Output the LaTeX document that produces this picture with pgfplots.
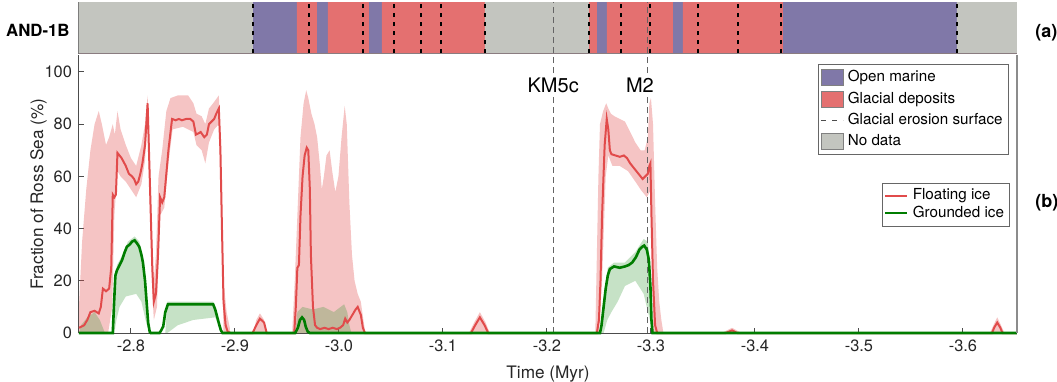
\documentclass[border=0pt]{standalone}
\usepackage{fontspec}
\setmainfont{TeX Gyre Heros}
\usepackage{pgfplots}
\pgfplotsset{compat=1.18}
\usetikzlibrary{calc}

\definecolor{openmarine}{RGB}{128,120,168}
\definecolor{glacial}{RGB}{228,112,112}
\definecolor{nodata}{RGB}{195,197,191}
\definecolor{floatred}{RGB}{225,75,75}
\definecolor{groundgreen}{RGB}{0,125,0}
\definecolor{markgray}{RGB}{100,100,100}

\pgfplotsset{
  shortline legend/.style={legend image code/.code={\draw[##1] (0pt,0pt) -- (11pt,0pt);}},
  spread red/.style={fill=floatred, fill opacity=0.33, draw=none, forget plot},
  spread green/.style={fill=groundgreen!80, fill opacity=0.28, draw=none, forget plot},
}

\begin{document}
\begin{tikzpicture}
% ---------------- (b) ice fractions ----------------
\begin{axis}[
  name=main,
  scale only axis,
  width=469pt, height=139pt,
  x dir=reverse,
  xmin=-3.652, xmax=-2.75,
  ymin=0, ymax=106.5,
  clip=false,
  axis lines*=left,
  axis line style={black!70, line width=0.5pt},
  tick style={black!70, line width=0.5pt},
  tick align=inside,
  major tick length=2.5pt,
  xtick={-3.6,-3.5,-3.4,-3.3,-3.2,-3.1,-3.0,-2.9,-2.8},
  xticklabels={-3.6,-3.5,-3.4,-3.3,-3.2,-3.1,-3.0,-2.9,-2.8},
  ytick={0,20,40,60,80,100},
  /pgf/number format/assume math mode=true,
  tick label style={font=\fontsize{8.2}{9}\selectfont, black!85},
  xlabel={Time (Myr)},
  ylabel={Fraction of Ross Sea (\%)},
  ylabel shift=-8pt,
  label style={font=\fontsize{8.6}{10}\selectfont, black!85},
  legend style={at={(0.9925,0.54)}, anchor=north east, draw=black!60,
    font=\fontsize{7.6}{8.5}\selectfont, inner sep=0.8pt, row sep=-2.5pt},
  legend cell align=left,
]
% shaded spread, floating ice
\addplot[spread red] coordinates {
(-2.750,10) (-2.753,35) (-2.757,55) (-2.761,70) (-2.765,80) (-2.769,85) (-2.772,80)
(-2.776,72) (-2.779,75) (-2.7825,80) (-2.7845,76) (-2.787,85) (-2.790,78) (-2.795,72)
(-2.800,67) (-2.805,64) (-2.810,72) (-2.8135,80) (-2.816,91) (-2.818,70) (-2.8205,35)
(-2.822,20) (-2.824,30) (-2.8265,60) (-2.830,70) (-2.834,85) (-2.838,90) (-2.845,91)
(-2.855,91) (-2.860,88) (-2.863,84) (-2.868,83) (-2.8715,80) (-2.875,86) (-2.879,88)
(-2.8845,91) (-2.886,75) (-2.8875,45) (-2.889,20) (-2.892,8) (-2.895,2)
(-2.895,0) (-2.889,0) (-2.8875,30) (-2.886,60) (-2.8845,80) (-2.880,78) (-2.875,73)
(-2.8715,65) (-2.868,70) (-2.863,72) (-2.860,77) (-2.850,79) (-2.840,78) (-2.836,65)
(-2.832,48) (-2.828,45) (-2.825,10) (-2.822,5) (-2.8205,15) (-2.818,50) (-2.816,82)
(-2.8135,66) (-2.810,57) (-2.805,52) (-2.800,55) (-2.795,58) (-2.790,60) (-2.787,62)
(-2.784,45) (-2.782,10) (-2.778,0) (-2.750,0)} -- cycle;
\addplot[spread red] coordinates {
(-2.9175,0) (-2.9205,5) (-2.924,7.5) (-2.928,5) (-2.9305,0)} -- cycle;
\addplot[spread red] coordinates {
(-2.955,0) (-2.9575,20) (-2.960,45) (-2.963,75) (-2.966,88) (-2.9685,93) (-2.9705,90)
(-2.9735,84) (-2.9765,80) (-2.979,75) (-2.9815,65) (-2.9835,55) (-2.9855,60) (-2.988,68)
(-2.991,70) (-2.9935,62) (-2.9965,54) (-2.9995,60) (-3.0025,75) (-3.0055,87) (-3.0075,80)
(-3.010,50) (-3.0125,30) (-3.015,20) (-3.018,15) (-3.021,12) (-3.0235,5) (-3.0255,0)} -- cycle;
\addplot[spread red] coordinates {
(-3.125,0) (-3.130,4) (-3.1355,8) (-3.141,4) (-3.145,0)} -- cycle;
\addplot[spread red] coordinates {
(-3.2465,0) (-3.248,30) (-3.2495,60) (-3.251,80) (-3.254,85) (-3.257,88) (-3.259,86)
(-3.2615,84) (-3.265,83) (-3.270,82) (-3.275,81) (-3.280,77) (-3.285,73) (-3.290,70)
(-3.294,70) (-3.297,75) (-3.2985,88) (-3.300,90) (-3.302,80) (-3.304,50) (-3.306,25)
(-3.308,12) (-3.310,5) (-3.312,0)
(-3.302,0) (-3.300,55) (-3.296,52) (-3.290,55) (-3.285,58) (-3.278,62) (-3.270,64)
(-3.263,64) (-3.259,68) (-3.2565,60) (-3.253,20) (-3.250,0)} -- cycle;
\addplot[spread red] coordinates {
(-3.368,0) (-3.378,2) (-3.387,0)} -- cycle;
\addplot[spread red] coordinates {
(-3.626,0) (-3.630,3.5) (-3.633,6) (-3.636,3.5) (-3.640,0)} -- cycle;
% shaded spread, grounded ice
\addplot[spread green] coordinates {
(-2.750,0) (-2.752,3) (-2.758,6) (-2.765,8) (-2.770,5) (-2.773,2) (-2.775,0)} -- cycle;
\addplot[spread green] coordinates {
(-2.7825,0) (-2.784,20) (-2.7865,26) (-2.792,30) (-2.797,35) (-2.8035,37) (-2.808,35)
(-2.8115,29) (-2.815,14) (-2.8175,0)
(-2.814,5) (-2.810,12) (-2.805,15) (-2.795,14) (-2.789,10) (-2.786,5) (-2.784,0)} -- cycle;
\addplot[spread green] coordinates {
(-2.833,0) (-2.835,12) (-2.860,12) (-2.879,12) (-2.883,7) (-2.8875,0)
(-2.881,6) (-2.860,5) (-2.845,3) (-2.835,0)} -- cycle;
\addplot[spread green] coordinates {
(-2.958,0) (-2.960,8) (-2.965,10) (-2.975,9) (-2.985,10) (-2.995,8) (-3.005,11)
(-3.008,8) (-3.010,3) (-3.012,0)} -- cycle;
\addplot[spread green] coordinates {
(-3.2505,0) (-3.2545,14) (-3.2585,25) (-3.2645,27) (-3.275,27) (-3.285,31) (-3.293,36)
(-3.297,35) (-3.2995,25) (-3.3015,0)
(-3.299,5) (-3.293,15) (-3.285,20) (-3.275,18) (-3.268,12) (-3.262,8) (-3.258,5)
(-3.2545,0)} -- cycle;
% KM5c and M2
\addplot[markgray, line width=0.6pt, dash pattern=on 3pt off 2pt, forget plot]
  coordinates {(-3.206,0) (-3.206,106.5)};
\addplot[markgray, line width=0.6pt, dash pattern=on 3pt off 2pt, forget plot]
  coordinates {(-3.297,0) (-3.297,106.5)};
% median lines
\addplot[floatred, line width=1pt, shortline legend] coordinates {
(-2.750,2) (-2.755,3) (-2.758,5) (-2.761,8) (-2.765,8.5) (-2.769,7.5) (-2.771,10)
(-2.773,17) (-2.776,16) (-2.779,17) (-2.781,25) (-2.7825,53) (-2.784,52) (-2.7855,53)
(-2.787,69) (-2.791,67) (-2.795,64) (-2.798,61) (-2.801,60) (-2.803,59) (-2.805,57)
(-2.807,58) (-2.809,61) (-2.811,65) (-2.8135,72) (-2.816,88) (-2.818,60) (-2.8205,25)
(-2.822,12) (-2.824,15) (-2.826,30) (-2.828,52) (-2.830,50) (-2.832,52) (-2.836,70)
(-2.8395,82) (-2.843,81.5) (-2.846,82) (-2.849,81.5) (-2.853,82) (-2.857,82) (-2.860,81)
(-2.8625,76) (-2.865,76.5) (-2.867,77) (-2.8705,75) (-2.873,76) (-2.875,80) (-2.8775,81)
(-2.880,82) (-2.882,84) (-2.8845,86) (-2.886,70) (-2.8875,40) (-2.889,12) (-2.891,3)
(-2.893,0.5) (-2.896,0) (-2.917,0) (-2.9205,3) (-2.924,5.5) (-2.928,4) (-2.9305,0)
(-2.957,0) (-2.9585,10) (-2.960,25) (-2.9615,26) (-2.963,45) (-2.965,60) (-2.967,68)
(-2.969,71) (-2.9705,70) (-2.972,55) (-2.973,30) (-2.975,10) (-2.977,3) (-2.979,2)
(-2.982,1.5) (-2.986,2) (-2.990,1.5) (-2.994,2) (-2.998,1.5) (-3.001,2) (-3.004,3)
(-3.006,5.5) (-3.008,4) (-3.010,5) (-3.013,7) (-3.016,9) (-3.018,10) (-3.021,7)
(-3.023,2) (-3.025,0) (-3.127,0) (-3.131,3) (-3.1355,6) (-3.140,3) (-3.1435,0)
(-3.248,0) (-3.250,5) (-3.2515,20) (-3.253,45) (-3.2555,72) (-3.2575,82) (-3.259,78)
(-3.2605,70) (-3.262,68.5) (-3.266,68) (-3.270,67.5) (-3.274,68) (-3.277,67) (-3.280,65)
(-3.284,63) (-3.288,61) (-3.292,59) (-3.2945,60) (-3.297,61) (-3.2985,64) (-3.2995,65)
(-3.3005,45) (-3.302,20) (-3.304,3) (-3.306,0) (-3.372,0) (-3.378,1) (-3.383,0)
(-3.628,0) (-3.630,2) (-3.633,4) (-3.636,2) (-3.638,0) (-3.652,0)};
\addlegendentry{Floating ice}
\addplot[groundgreen, line width=1.3pt, shortline legend] coordinates {
(-2.750,0) (-2.7825,0) (-2.7838,12) (-2.785,22) (-2.7865,24) (-2.789,26) (-2.7915,28)
(-2.794,31) (-2.796,33) (-2.799,34) (-2.801,35) (-2.8035,35.5) (-2.8055,34.5) (-2.808,33)
(-2.810,30) (-2.8115,27) (-2.8135,20) (-2.815,12) (-2.8165,4) (-2.818,0.5) (-2.819,0)
(-2.8275,0) (-2.829,1) (-2.831,2.5) (-2.833,8) (-2.8355,11) (-2.845,11) (-2.860,11)
(-2.875,11) (-2.879,11) (-2.881,9) (-2.883,6) (-2.885,3) (-2.8865,1) (-2.888,0)
(-2.958,0) (-2.9605,2) (-2.9625,5) (-2.9645,6) (-2.9665,5) (-2.968,2.5) (-2.970,0.5)
(-2.972,0) (-3.251,0) (-3.2525,3) (-3.2545,10) (-3.2565,17) (-3.2585,22) (-3.2605,24.5)
(-3.2645,25.5) (-3.270,25) (-3.275,25.5) (-3.2785,26) (-3.282,27) (-3.2855,29) (-3.289,32)
(-3.2915,33) (-3.2935,33.5) (-3.296,32) (-3.298,28) (-3.2995,18) (-3.3005,5) (-3.3015,0)
(-3.652,0)};
\addlegendentry{Grounded ice}
\node[fill=white, inner sep=1pt, font=\fontsize{10}{12}\selectfont] at (axis cs:-3.206,95) {KM5c};
\node[fill=white, inner sep=1pt, font=\fontsize{10}{12}\selectfont] at (axis cs:-3.2894,95) {M2};
\draw[black!45, line width=0.6pt] (rel axis cs:1,0) -- (rel axis cs:1,1);
\node[anchor=west, font=\bfseries\fontsize{9}{10}\selectfont] at (rel axis cs:1.012,0.468) {(b)};
\end{axis}

% ---------------- (a) AND-1B core strip ----------------
\begin{axis}[
  name=strip,
  at={($(main.north west)+(0pt,1pt)$)}, anchor=south west,
  scale only axis,
  width=469pt, height=25.5pt,
  x dir=reverse,
  xmin=-3.652, xmax=-2.75,
  ymin=0, ymax=1,
  clip=false,
  xtick=\empty, ytick=\empty,
  axis line style={black!55, line width=0.5pt},
  legend style={at={(0.9915,-0.216)}, anchor=north east, draw=black!60,
    font=\fontsize{7.6}{8.5}\selectfont, inner sep=1pt, row sep=-0.5pt},
  legend cell align=left,
]
\addplot[const plot, fill=openmarine, draw=none, forget plot] coordinates {
(-2.75,0) (-2.9173,1) (-2.9596,0) (-2.9788,1) (-2.9894,0) (-3.0288,1) (-3.0413,0)
(-3.2481,1) (-3.2577,0) (-3.3212,1) (-3.3308,0) (-3.4269,1) (-3.5942,0) (-3.652,0)} \closedcycle;
\addplot[const plot, fill=glacial, draw=none, forget plot] coordinates {
(-2.75,0) (-2.9596,1) (-2.9788,0) (-2.9894,1) (-3.0288,0) (-3.0413,1) (-3.1404,0)
(-3.2404,1) (-3.2481,0) (-3.2577,1) (-3.3212,0) (-3.3308,1) (-3.4269,0) (-3.652,0)} \closedcycle;
\addplot[const plot, fill=nodata, draw=none, forget plot] coordinates {
(-2.75,1) (-2.9173,0) (-3.1404,1) (-3.2404,0) (-3.5942,1) (-3.652,1)} \closedcycle;
% glacial erosion surfaces
\addplot[ycomb, black, line width=1pt, dash pattern=on 2pt off 2.5pt, forget plot] coordinates {
(-2.9173,1) (-2.9712,1) (-3.0231,1) (-3.0529,1) (-3.0788,1) (-3.0981,1) (-3.1404,1)
(-3.2404,1) (-3.2712,1) (-3.2990,1) (-3.3452,1) (-3.3837,1) (-3.4250,1) (-3.5942,1)};
\addplot[markgray, line width=0.6pt, dash pattern=on 3pt off 2pt, forget plot]
  coordinates {(-3.206,0) (-3.206,1)};
\addplot[markgray, line width=0.6pt, dash pattern=on 3pt off 2pt, forget plot]
  coordinates {(-3.297,0) (-3.297,1)};
\addlegendimage{legend image code/.code={\draw[fill=openmarine, draw=black!50] (0pt,-4pt) rectangle (11pt,4pt);}}
\addlegendentry{Open marine}
\addlegendimage{legend image code/.code={\draw[fill=glacial, draw=black!50] (0pt,-4pt) rectangle (11pt,4pt);}}
\addlegendentry{Glacial deposits}
\addlegendimage{legend image code/.code={\draw[black!70, line width=0.6pt, dash pattern=on 2.5pt off 3pt] (0pt,0pt) -- (11pt,0pt);}}
\addlegendentry{Glacial erosion surface}
\addlegendimage{legend image code/.code={\draw[fill=nodata, draw=black!50] (0pt,-4pt) rectangle (11pt,4pt);}}
\addlegendentry{No data}
\node[anchor=east, inner sep=0pt, font=\bfseries\fontsize{8.4}{10}\selectfont] at (rel axis cs:-0.0096,0.45) {AND-1B};
\node[anchor=west, font=\bfseries\fontsize{9}{10}\selectfont] at (rel axis cs:1.012,0.4) {(a)};
\end{axis}

\pgfresetboundingbox
\path[use as bounding box] (main.south west) ++(-39.5pt,-24pt) rectangle ++(528.5pt,190.5pt);
\end{tikzpicture}
\end{document}
